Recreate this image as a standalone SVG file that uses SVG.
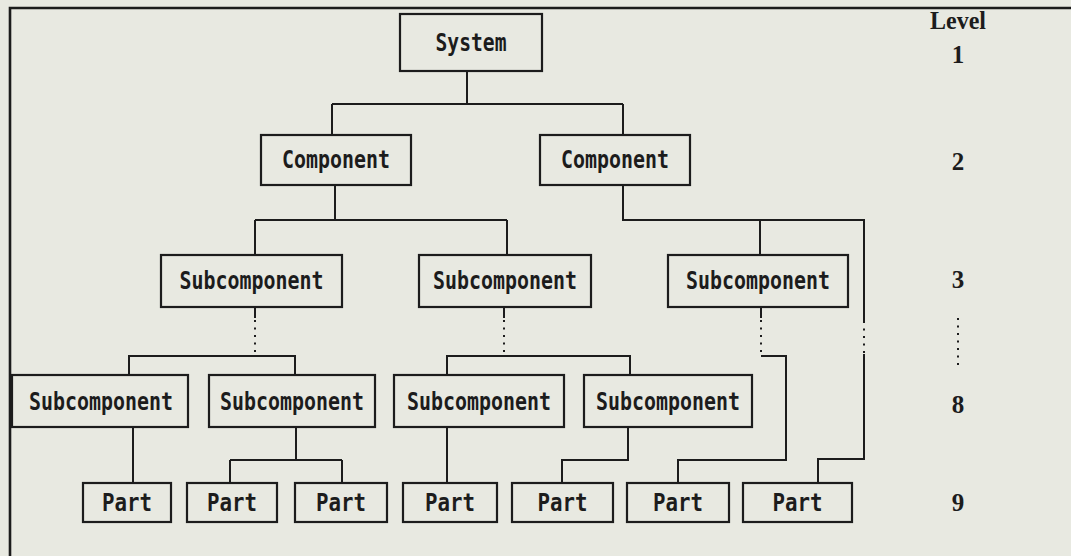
<svg xmlns="http://www.w3.org/2000/svg" width="1071" height="556" viewBox="0 0 1071 556">
<style>
.bg{fill:#e8e9e1}
.box{fill:none;stroke:#1c1c1c;stroke-width:2.2}
.lbl{font-family:"DejaVu Sans Mono","Liberation Mono",monospace;font-weight:bold;font-size:24px;fill:#1c1c1c;text-anchor:middle}
.lvl{font-family:"Liberation Serif","DejaVu Serif",serif;font-weight:bold;font-size:25px;fill:#1c1c1c;text-anchor:middle}
.ln{fill:none;stroke:#1c1c1c;stroke-width:2}
.dot{fill:none;stroke:#1c1c1c;stroke-width:2;stroke-dasharray:2 5.5}
.frame{fill:none;stroke:#1c1c1c;stroke-width:2.6}
</style>
<rect class="bg" x="0" y="0" width="1071" height="556"/>
<path class="frame" d="M10 556 V8 H1071"/>
<g id="connectors">
<path class="ln" d="M467 71 V104 M332 104 H623 M332 104 V135 M623 104 V135"/>
<path class="ln" d="M335 185 V220 M255 220 H507 M255 220 V255 M507 220 V255"/>
<path class="ln" d="M623 185 V220 H864 V321 M760 220 V255 M864 354 V459 H818 V483"/>
<path class="dot" d="M864 321 V354"/>
<path class="ln" d="M255 307 V318 M129 375 V356 H295 V375"/>
<path class="dot" d="M255 320 V355"/>
<path class="ln" d="M504 307 V318 M447 375 V356 H630 V375"/>
<path class="dot" d="M504 320 V355"/>
<path class="ln" d="M761 307 V318 M761 356 H786 V460 H678 V483"/>
<path class="dot" d="M761 320 V355"/>
<path class="ln" d="M133 427 V483"/>
<path class="ln" d="M296 427 V460 M230 460 H342 M230 460 V483 M342 460 V483"/>
<path class="ln" d="M447 427 V483"/>
<path class="ln" d="M628 427 V460 H562 V483"/>
</g>
<g id="system"><rect class="box" x="400" y="14" width="142" height="57"/><text class="lbl" x="471" y="51" textLength="71" lengthAdjust="spacingAndGlyphs">System</text></g>
<g id="component1"><rect class="box" x="261" y="135" width="150" height="50"/><text class="lbl" x="336" y="168" textLength="108" lengthAdjust="spacingAndGlyphs">Component</text></g>
<g id="component2"><rect class="box" x="540" y="135" width="150" height="50"/><text class="lbl" x="615" y="168" textLength="108" lengthAdjust="spacingAndGlyphs">Component</text></g>
<g id="sub3a"><rect class="box" x="161" y="255" width="181" height="52"/><text class="lbl" x="251.5" y="289" textLength="144" lengthAdjust="spacingAndGlyphs">Subcomponent</text></g>
<g id="sub3b"><rect class="box" x="419" y="255" width="172" height="52"/><text class="lbl" x="505" y="289" textLength="144" lengthAdjust="spacingAndGlyphs">Subcomponent</text></g>
<g id="sub3c"><rect class="box" x="668" y="255" width="180" height="52"/><text class="lbl" x="758" y="289" textLength="144" lengthAdjust="spacingAndGlyphs">Subcomponent</text></g>
<g id="sub8a"><rect class="box" x="12" y="375" width="176" height="52"/><text class="lbl" x="101" y="410" textLength="144" lengthAdjust="spacingAndGlyphs">Subcomponent</text></g>
<g id="sub8b"><rect class="box" x="209" y="375" width="166" height="52"/><text class="lbl" x="292" y="410" textLength="144" lengthAdjust="spacingAndGlyphs">Subcomponent</text></g>
<g id="sub8c"><rect class="box" x="394" y="375" width="170" height="52"/><text class="lbl" x="479" y="410" textLength="144" lengthAdjust="spacingAndGlyphs">Subcomponent</text></g>
<g id="sub8d"><rect class="box" x="584" y="375" width="168" height="52"/><text class="lbl" x="668" y="410" textLength="144" lengthAdjust="spacingAndGlyphs">Subcomponent</text></g>
<g id="part1"><rect class="box" x="83" y="483" width="88" height="39"/><text class="lbl" x="127" y="511" textLength="50" lengthAdjust="spacingAndGlyphs">Part</text></g>
<g id="part2"><rect class="box" x="187" y="483" width="90" height="39"/><text class="lbl" x="232" y="511" textLength="50" lengthAdjust="spacingAndGlyphs">Part</text></g>
<g id="part3"><rect class="box" x="295" y="483" width="92" height="39"/><text class="lbl" x="341" y="511" textLength="50" lengthAdjust="spacingAndGlyphs">Part</text></g>
<g id="part4"><rect class="box" x="403" y="483" width="94" height="39"/><text class="lbl" x="450" y="511" textLength="50" lengthAdjust="spacingAndGlyphs">Part</text></g>
<g id="part5"><rect class="box" x="512" y="483" width="101" height="39"/><text class="lbl" x="562.5" y="511" textLength="50" lengthAdjust="spacingAndGlyphs">Part</text></g>
<g id="part6"><rect class="box" x="627" y="483" width="102" height="39"/><text class="lbl" x="678" y="511" textLength="50" lengthAdjust="spacingAndGlyphs">Part</text></g>
<g id="part7"><rect class="box" x="743" y="483" width="109" height="39"/><text class="lbl" x="797.5" y="511" textLength="50" lengthAdjust="spacingAndGlyphs">Part</text></g>
<g id="levels">
<text class="lvl" x="958" y="29" textLength="56" lengthAdjust="spacingAndGlyphs">Level</text>
<text class="lvl" x="958" y="63">1</text>
<text class="lvl" x="958" y="170">2</text>
<text class="lvl" x="958" y="288">3</text>
<path class="dot" d="M958 318 V370"/>
<text class="lvl" x="958" y="413">8</text>
<text class="lvl" x="958" y="511">9</text>
</g>
</svg>
